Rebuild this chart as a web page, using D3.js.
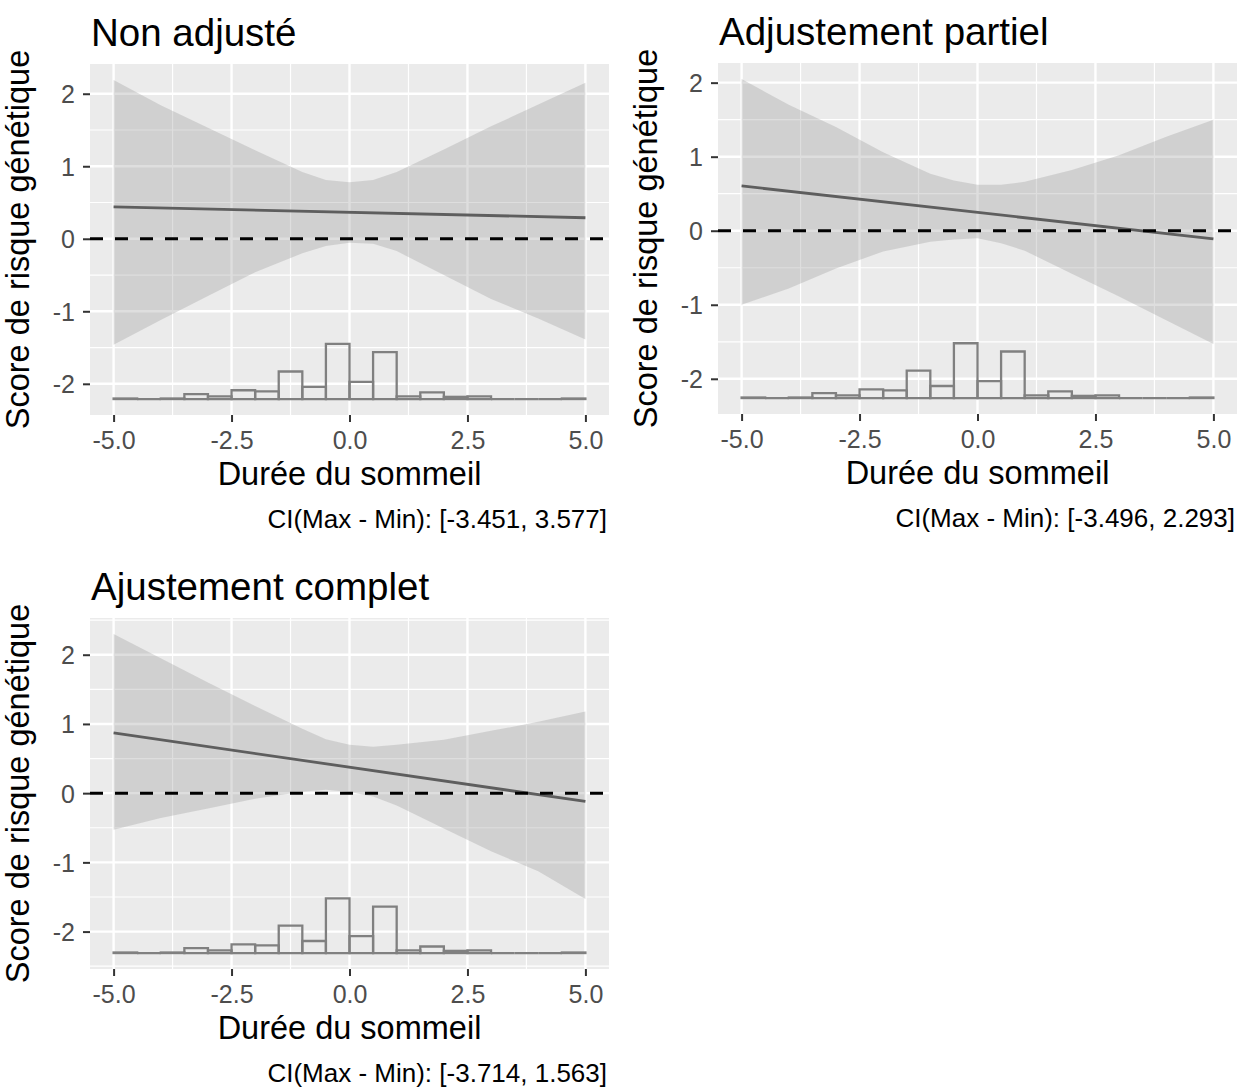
<!DOCTYPE html>
<html>
<head>
<meta charset="utf-8">
<script src="https://cdn.jsdelivr.net/npm/d3@7"></script>
<style>
  body { margin: 0; background: #fff; }
  svg text { font-family: "Liberation Sans", Arial, sans-serif; }
</style>
</head>
<body>
<svg id="chart" width="1247" height="1090"></svg>
<script>
'use strict';

// --- data ---
const titles = ['Non adjusté', 'Adjustement partiel', 'Ajustement complet'];
const captions = [
  'CI(Max - Min): [-3.451, 3.577]',
  'CI(Max - Min): [-3.496, 2.293]',
  'CI(Max - Min): [-3.714, 1.563]'
];
const xLabel = 'Durée du sommeil';
const yLabel = 'Score de risque génétique';

const xTicks = [-5, -2.5, 0, 2.5, 5];
const xMinor = [-3.75, -1.25, 1.25, 3.75];
const yTicks = [-2, -1, 0, 1, 2];
const yMinor = [-2.5, -1.5, -0.5, 0.5, 1.5, 2.5];

const ciX = [-5, -4, -3, -2, -1, -0.5, 0, 0.5, 1, 2, 3, 4, 5];
const upperNon = [2.19, 1.84, 1.53, 1.22, 0.92, 0.81, 0.78, 0.81, 0.92, 1.23, 1.55, 1.85, 2.15];
const lowerNon = [-1.46, -1.12, -0.79, -0.46, -0.20, -0.10, -0.055, -0.07, -0.17, -0.50, -0.83, -1.10, -1.39];
const upperPartial = [2.05, 1.70, 1.40, 1.06, 0.77, 0.68, 0.62, 0.62, 0.66, 0.82, 1.02, 1.27, 1.50];
const lowerPartial = [-1.00, -0.78, -0.51, -0.28, -0.15, -0.12, -0.10, -0.17, -0.27, -0.58, -0.89, -1.21, -1.53];
const upperFull = [2.30, 1.95, 1.60, 1.26, 0.93, 0.78, 0.70, 0.67, 0.70, 0.77, 0.90, 1.03, 1.18];
const lowerFull = [-0.53, -0.36, -0.22, -0.08, 0.02, 0.05, 0.015, -0.05, -0.18, -0.51, -0.84, -1.13, -1.53];

const fitX = [-5, 5];
const fitNon = [0.44, 0.29];
const fitPartial = [0.605, -0.11];
const fitFull = [0.87, -0.12];

const binStarts = [-5, -4.5, -4, -3.5, -3, -2.5, -2, -1.5, -1, -0.5, 0, 0.5, 1, 1.5, 2, 2.5, 3, 3.5, 4, 4.5];
const binCounts = [1, 0, 1, 9, 5, 16, 14, 50, 22, 100, 31, 85, 5, 12, 4, 5, 0, 0, 0, 1];
const binWidth = 0.5;
const histBase = [-2.21, -2.26, -2.31];
const histTop = [-1.45, -1.52, -1.52];

const uppers = [upperNon, upperPartial, upperFull];
const lowers = [lowerNon, lowerPartial, lowerFull];
const fits = [fitNon, fitPartial, fitFull];

// --- layout ---
const panelW = 519;
const panelH = 351;
const panelPos = [
  {left: 90, top: 64},
  {left: 718, top: 63},
  {left: 90, top: 618}
];

const svg = d3.select('#chart');

const expand = (lo, hi) => {
  const pad = (hi - lo) * 0.05;
  return [lo - pad, hi + pad];
};
// ggplot prints a plain hyphen for negatives
const hyphen = fmt => d => d3.format(fmt)(d).replace('\u2212', '-');

panelPos.forEach((pos, i) => {
  const g = svg.append('g')
    .attr('transform', `translate(${pos.left},${pos.top})`);

  const x = d3.scaleLinear()
    .domain(expand(d3.min(ciX), d3.max(ciX)))
    .range([0, panelW]);
  const y = d3.scaleLinear()
    .domain(expand(histBase[i], d3.max(uppers[i])))
    .range([panelH, 0]);
  const [yLo, yHi] = y.domain();

  g.append('rect')
    .attr('width', panelW)
    .attr('height', panelH)
    .attr('fill', '#ebebeb');

  // grid
  g.selectAll('.xminor').data(xMinor).enter().append('line')
    .attr('x1', d => x(d)).attr('x2', d => x(d))
    .attr('y1', 0).attr('y2', panelH)
    .attr('stroke', '#fff').attr('stroke-width', 1.2);
  g.selectAll('.yminor').data(yMinor.filter(d => d > yLo && d < yHi)).enter().append('line')
    .attr('y1', d => y(d)).attr('y2', d => y(d))
    .attr('x1', 0).attr('x2', panelW)
    .attr('stroke', '#fff').attr('stroke-width', 1.2);
  g.selectAll('.xmajor').data(xTicks).enter().append('line')
    .attr('x1', d => x(d)).attr('x2', d => x(d))
    .attr('y1', 0).attr('y2', panelH)
    .attr('stroke', '#fff').attr('stroke-width', 2.4);
  g.selectAll('.ymajor').data(yTicks).enter().append('line')
    .attr('y1', d => y(d)).attr('y2', d => y(d))
    .attr('x1', 0).attr('x2', panelW)
    .attr('stroke', '#fff').attr('stroke-width', 2.4);

  // confidence ribbon
  const band = ciX.map((v, k) => ({x: v, lo: lowers[i][k], hi: uppers[i][k]}));
  g.append('path')
    .datum(band)
    .attr('d', d3.area().x(d => x(d.x)).y0(d => y(d.lo)).y1(d => y(d.hi)))
    .attr('fill', '#999999')
    .attr('fill-opacity', 0.32);

  // histogram of the exposure (outlined, empty bins drawn as flat lines)
  const hScale = d3.scaleLinear()
    .domain([0, d3.max(binCounts)])
    .range([histBase[i], histTop[i]]);
  const y0 = y(histBase[i]);
  g.selectAll('.bin').data(binStarts.map((b, k) => ({b, c: binCounts[k]}))).enter().append('path')
    .attr('d', d => {
      const x0 = x(d.b);
      const x1 = x(d.b + binWidth);
      const yt = y(hScale(d.c));
      return `M${x0},${y0}L${x0},${yt}L${x1},${yt}L${x1},${y0}Z`;
    })
    .attr('fill', 'none')
    .attr('stroke', '#808080')
    .attr('stroke-width', 2.3);

  // fitted line
  g.append('path')
    .datum(fitX.map((v, k) => [v, fits[i][k]]))
    .attr('d', d3.line().x(d => x(d[0])).y(d => y(d[1])))
    .attr('fill', 'none')
    .attr('stroke', '#5e5e5e')
    .attr('stroke-width', 2.8);

  // reference line at zero
  g.append('line')
    .attr('x1', 0).attr('x2', panelW)
    .attr('y1', y(0)).attr('y2', y(0))
    .attr('stroke', '#000')
    .attr('stroke-width', 3)
    .attr('stroke-dasharray', '13 12');

  // axes
  const xAxis = g.append('g')
    .attr('transform', `translate(0,${panelH})`)
    .call(d3.axisBottom(x).tickValues(xTicks).tickFormat(hyphen('.1f')).tickSize(7).tickPadding(5));
  const yAxis = g.append('g')
    .call(d3.axisLeft(y).tickValues(yTicks).tickFormat(hyphen('d')).tickSize(7).tickPadding(5));
  [xAxis, yAxis].forEach(a => {
    a.select('.domain').remove();
    a.selectAll('line').attr('stroke', '#333').attr('stroke-width', 2);
    a.selectAll('text')
      .attr('fill', '#4d4d4d')
      .style('font-size', '25px');
  });
  xAxis.selectAll('text').attr('dy', '0.88em');
  yAxis.selectAll('text').attr('dy', '0.36em').attr('x', -15);

  // texts
  g.append('text')
    .attr('x', 1)
    .attr('y', -18)
    .style('font-size', '38.5px')
    .attr('fill', '#000')
    .text(titles[i]);
  g.append('text')
    .attr('x', panelW / 2)
    .attr('y', panelH + 70)
    .attr('text-anchor', 'middle')
    .style('font-size', '32.5px')
    .attr('fill', '#000')
    .text(xLabel);
  g.append('text')
    .attr('transform', `translate(-61,${panelH / 2}) rotate(-90)`)
    .attr('text-anchor', 'middle')
    .style('font-size', '32.5px')
    .attr('fill', '#000')
    .text(yLabel);
  g.append('text')
    .attr('x', panelW - 2)
    .attr('y', panelH + 113)
    .attr('text-anchor', 'end')
    .style('font-size', '26px')
    .attr('fill', '#000')
    .text(captions[i]);
});
</script>
</body>
</html>
